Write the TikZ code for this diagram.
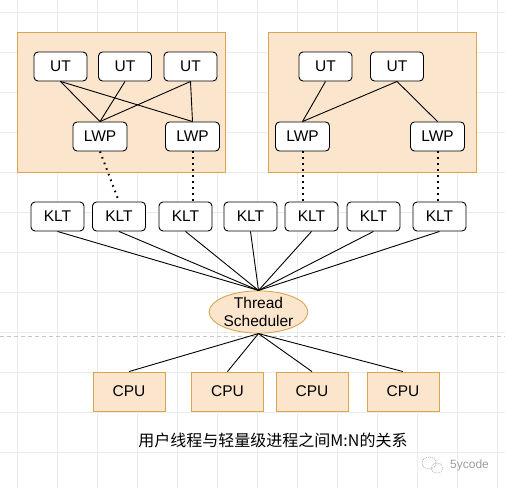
\documentclass[tikz,border=0pt]{standalone}
\usepackage{fontspec}
\setmainfont{Liberation Sans}
\newfontfamily\cjk{Noto Sans CJK SC}
\usetikzlibrary{shapes.geometric}
\definecolor{boxfill}{HTML}{FBE5CD}
\definecolor{boxline}{HTML}{D9A54E}
\definecolor{gridc}{HTML}{EBEBEB}
\begin{document}
\begin{tikzpicture}[x=1pt,y=-1pt,
  rbox/.style={draw=black,fill=white,rounded corners=4pt,line width=0.9pt,
    minimum width=53pt,minimum height=29pt,inner sep=0pt,
    font=\fontsize{15.5}{17}\selectfont},
  group/.style={draw=boxline,fill=boxfill,line width=0.9pt,inner sep=0pt},
  cpu/.style={draw=boxline,fill=boxfill,line width=0.9pt,minimum width=72pt,
    minimum height=39pt,inner sep=0pt,font=\fontsize{15.5}{17}\selectfont},
  sched/.style={ellipse,draw=boxline,fill=boxfill,line width=0.9pt,
    minimum width=98pt,minimum height=40pt,inner sep=0pt,align=center,
    font=\fontsize{15.5}{18.5}\selectfont},
  link/.style={draw=black,line width=0.9pt},
  dots/.style={draw=black,line width=2pt,dash pattern=on 1.6pt off 4.4pt}]
\useasboundingbox (0,0) rectangle (505,488);
\fill[white] (0,0) rectangle (505,488);
% grid
\foreach \gx in {17,57,...,497} \draw[gridc,line width=0.8pt] (\gx,0) -- (\gx,488);
\foreach \gy in {12,52,...,452} \draw[gridc,line width=0.8pt] (0,\gy) -- (505,\gy);
% dashed separator
\draw[color=black!22,line width=0.8pt,dash pattern=on 4pt off 3pt] (0,336) -- (505,336);
% group boxes
\node[group,minimum width=208pt,minimum height=140pt] (gl) at (121,102) {};
\node[group,minimum width=208pt,minimum height=140pt] (gr) at (372,102) {};
% UT
\node[rbox] (ul1) at (60.5,66.5) {UT};
\node[rbox] (ul2) at (125,66.5) {UT};
\node[rbox] (ul3) at (190.5,66.5) {UT};
\node[rbox] (ur1) at (325.5,66.5) {UT};
\node[rbox] (ur2) at (397,66.5) {UT};
% LWP
\node[rbox,minimum width=54pt] (ll1) at (100,136.5) {LWP};
\node[rbox,minimum width=54pt] (ll2) at (192.5,136.5) {LWP};
\node[rbox,minimum width=54pt] (lr1) at (302.5,136.5) {LWP};
\node[rbox,minimum width=54pt] (lr2) at (437.5,136.5) {LWP};
% KLT
\node[rbox] (k1) at (57.5,216.5) {KLT};
\node[rbox] (k2) at (119,216.5) {KLT};
\node[rbox] (k3) at (185.5,216.5) {KLT};
\node[rbox] (k4) at (250.5,216.5) {KLT};
\node[rbox] (k5) at (311.5,216.5) {KLT};
\node[rbox] (k6) at (373.5,216.5) {KLT};
\node[rbox] (k7) at (439.5,216.5) {KLT};
% scheduler
\node[sched] (ts) at (258.5,312) {Thread\\Scheduler};
% CPU
\node[cpu] (c1) at (129,391.5) {CPU};
\node[cpu] (c2) at (227.5,391.5) {CPU};
\node[cpu] (c3) at (312,391.5) {CPU};
\node[cpu] (c4) at (403,391.5) {CPU};
% UT-LWP links
\draw[link] (ul1.south) -- (ll1.north);
\draw[link] (ul1.south) -- (ll2.north);
\draw[link] (ul2.south) -- (ll1.north);
\draw[link] (ul3.south) -- (ll1.north);
\draw[link] (ul3.south) -- (ll2.north);
\draw[link] (ur1.south) -- (lr1.north);
\draw[link] (ur2.south) -- (lr1.north);
\draw[link] (ur2.south) -- (lr2.north);
% LWP-KLT dotted
\draw[dots] (ll1.south) -- (k2.north);
\draw[dots] (ll2.south) -- (ll2.south |- k3.north);
\draw[dots] (lr1.south) -- (lr1.south |- k5.north);
\draw[dots] (lr2.south) -- (lr2.south |- k7.north);
% KLT-scheduler
\foreach \k in {k1,k2,k3,k4,k5,k6,k7} \draw[link] (\k.south) -- (ts.north);
% scheduler-CPU
\foreach \c in {c1,c2,c3,c4} \draw[link] (ts.south) -- (\c.north);
% caption
\node[font=\cjk\fontsize{16}{18}\selectfont,inner sep=0pt] (cap) at (273,440) {用户线程与轻量级进程之间M:N的关系};
% watermark
\draw[black!35,line width=0.6pt,dash pattern=on 1pt off 1pt] (429,463) ellipse (7pt and 6pt);
\draw[black!35,line width=0.6pt,dash pattern=on 1pt off 1pt] (437,468) ellipse (6pt and 5pt);
\node[text=black!38,font=\fontsize{12}{14}\selectfont,inner sep=0pt] (wm) at (469.5,465) {5ycode};
\end{tikzpicture}
\end{document}
